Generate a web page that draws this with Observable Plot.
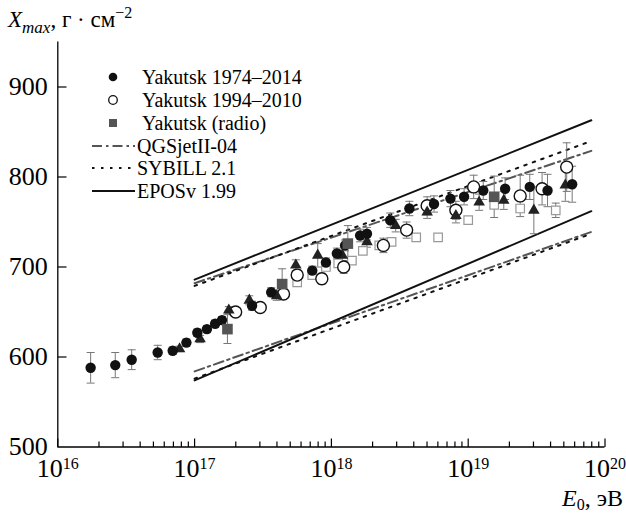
<!DOCTYPE html>
<html><head><meta charset="utf-8">
<script src="https://cdn.jsdelivr.net/npm/d3@7"></script>
<script src="https://cdn.jsdelivr.net/npm/@observablehq/plot@0.6"></script>
<style>body{margin:0;background:#fff}#chart{width:626px;height:516px}</style>
</head><body><div id="chart"></div>
<script>
// ---------- data ----------
const xMajorTicks = [1e16, 1e17, 1e18, 1e19, 1e20];
const minorMultipliers = [2, 3, 4, 5, 6, 7, 8, 9];
const yTicks = [500, 600, 700, 800, 900];

// Yakutsk 1974–2014 (filled circles)
const fcLogE = [16.24,16.42,16.54,16.73,16.84,16.94,17.02,17.09,17.15,17.20,17.42,17.56,17.86,17.96,18.04,18.10,18.21,18.26,18.43,18.57,18.75,18.87,18.97,19.11,19.27,19.45,19.58,19.76];
const fcX    = [588,591,597,605,607,616,627,631,637,641,657,672,696,705,715,724,735,737,752,765,770,776,778,785,787,789,785,792];
const fcErr  = [17,14,11,8,4,4,4,4,4,4,5,5,5,5,6,6,7,7,8,8,9,9,9,10,12,14,18,20];
// Yakutsk 1994–2010 (open circles)
const ocLogE = [17.30,17.48,17.65,17.75,17.93,18.09,18.38,18.55,18.70,18.91,19.04,19.38,19.54,19.72];
const ocX    = [650,655,670,691,687,700,724,741,768,763,789,779,787,811];
const ocErr  = [4,5,5,6,6,7,8,9,10,10,13,23,18,27];
// Yakutsk (radio) (grey squares)
const rdLogE = [17.24,17.64,18.12,19.19];
const rdX    = [631,681,726,778];
const rdErr  = [16,17,20,23];
// unlabelled: filled triangles
const trLogE = [16.89,17.04,17.25,17.40,17.60,17.74,17.90,18.08,18.26,18.47,18.70,18.91,19.08,19.26,19.48,19.71];
const trX    = [609,620,652,663,668,702,713,713,728,746,761,757,772,774,763,791];
const trErr  = [3,4,4,5,5,6,13,6,6,7,7,8,9,10,26,18];
// unlabelled: open grey squares
const osLogE = [17.75,17.86,17.96,18.05,18.15,18.23,18.35,18.44,18.62,18.78,19.00,19.19,19.38,19.64];
const osX    = [683,691,700,704,707,718,724,728,733,733,752,769,765,763];
const osErr  = [3,3,3,3,3,3,3,3,3,3,3,3,4,8];

// model predictions (proton upper, iron lower), endpoints
const modelLogE = [17, 19.9];
const qgsP = [682, 829], qgsFe = [584, 739];
const sibP = [679, 840], sibFe = [576, 737];
const eposP = [686, 863], eposFe = [574, 762];

const legendLabels = ["Yakutsk 1974\u20132014", "Yakutsk 1994\u20132010", "Yakutsk (radio)", "QGSjetII-04", "SYBILL 2.1", "EPOSv 1.99"];

// ---------- build tables ----------
const pts = (le, xs, er) => le.map((l, i) => ({E: 10 ** l, X: xs[i], err: er[i]}));
const fc = pts(fcLogE, fcX, fcErr), oc = pts(ocLogE, ocX, ocErr), rd = pts(rdLogE, rdX, rdErr),
      tr = pts(trLogE, trX, trErr), os = pts(osLogE, osX, osErr);
const model = (p, fe) => [...modelLogE.map((l, i) => ({E: 10 ** l, X: p[i], k: "p"})),
                          ...modelLogE.map((l, i) => ({E: 10 ** l, X: fe[i], k: "fe"}))];
const allErr = [...os, ...oc, ...tr, ...fc, ...rd];
const caps = allErr.flatMap(d => [{E: d.E, X: d.X - d.err}, {E: d.E, X: d.X + d.err}]);
const minorTicks = xMajorTicks.slice(0, -1).flatMap(d => minorMultipliers.map(m => d * m));

const rad = size => Math.sqrt(size / Math.PI);
const hLine = {draw(c, s) { const r = rad(s); c.moveTo(-r, 0); c.lineTo(r, 0); }};
const upLine = {draw(c, s) { const r = rad(s); c.moveTo(0, 0); c.lineTo(0, -r); }};
const rightLine = {draw(c, s) { const r = rad(s); c.moveTo(0, 0); c.lineTo(r, 0); }};

const serif = "'Liberation Serif','Times New Roman',serif";
const errColor = "#777";

const plot = Plot.plot({
  width: 626, height: 516,
  marginLeft: 57.3, marginRight: 21.5, marginTop: 41.5, marginBottom: 69.5,
  style: {fontFamily: serif, background: "#fff", color: "#000"},
  x: {type: "log", domain: [1e16, 1e20]},
  y: {domain: [500, 950]},
  marks: [
    Plot.axisX({ticks: xMajorTicks, tickSize: 0, tickPadding: 12, fontSize: 26, label: null,
      tickFormat: d => String(Math.round(Math.log10(d)))}),
    Plot.axisY({ticks: yTicks, tickSize: 0, tickPadding: 10, fontSize: 26, label: null}),
    // models
    Plot.line(model(qgsP, qgsFe), {x: "E", y: "X", z: "k", stroke: "#555", strokeWidth: 2, strokeDasharray: "10,4,2.5,4"}),
    Plot.line(model(sibP, sibFe), {x: "E", y: "X", z: "k", stroke: "#111", strokeWidth: 2, strokeDasharray: "2.5,6.5"}),
    Plot.line(model(eposP, eposFe), {x: "E", y: "X", z: "k", stroke: "#111", strokeWidth: 2}),
    // error bars
    Plot.ruleX(allErr, {x: "E", y1: d => d.X - d.err, y2: d => d.X + d.err, stroke: errColor, strokeWidth: 1}),
    Plot.dot(caps, {x: "E", y: "X", symbol: hLine, r: 4, stroke: errColor, strokeWidth: 1, fill: "none"}),
    // points
    Plot.dot(os, {x: "E", y: "X", symbol: "square", r: 4.8, fill: "#fff", stroke: "#999", strokeWidth: 1.2}),
    Plot.dot(oc, {x: "E", y: "X", r: 6, fill: "#fff", stroke: "#111", strokeWidth: 1.4}),
    Plot.dot(tr, {x: "E", y: "X", symbol: "triangle", r: 4.3, fill: "#222", stroke: "none"}),
    Plot.dot(fc, {x: "E", y: "X", r: 5.2, fill: "#111", stroke: "none"}),
    Plot.dot(rd, {x: "E", y: "X", symbol: "square", r: 6, fill: "#555", stroke: "none"}),
    // axis frame and inward ticks
    Plot.ruleX([1e16], {stroke: "#000", strokeWidth: 1.3}),
    Plot.ruleY([500], {stroke: "#000", strokeWidth: 1.3}),
    Plot.dot(xMajorTicks, {x: d => d, y: () => 500, symbol: upLine, r: 8.5, stroke: "#000", strokeWidth: 1.2}),
    Plot.dot(minorTicks, {x: d => d, y: () => 500, symbol: upLine, r: 5.5, stroke: "#000", strokeWidth: 1.2}),
    Plot.dot(yTicks.slice(1), {x: () => 1e16, y: d => d, symbol: rightLine, r: 8.7, stroke: "#000", strokeWidth: 1.2})
  ]
});
document.getElementById("chart").append(plot);

// superscripts on x tick labels
plot.querySelectorAll('[aria-label="x-axis tick label"] text').forEach(t => {
  const p = t.textContent;
  t.textContent = "10";
  const s = document.createElementNS("http://www.w3.org/2000/svg", "tspan");
  s.setAttribute("dy", "-8.5");
  s.setAttribute("font-size", "16");
  s.textContent = p;
  t.appendChild(s);
});

const svg = d3.select(plot);
// axis titles
const yt = svg.append("text").attr("x", 8).attr("y", 27).attr("text-anchor", "start").attr("font-size", 23).attr("font-family", serif).attr("fill", "#000");
yt.append("tspan").attr("font-style", "italic").text("X");
yt.append("tspan").attr("font-style", "italic").attr("font-size", 17).attr("dy", 6).text("max");
yt.append("tspan").attr("dy", -6).text(", \u0433 \u00b7 \u0441\u043c");
yt.append("tspan").attr("font-size", 16).attr("dy", -9).text("\u22122");

const xt = svg.append("text").attr("x", 623).attr("y", 506).attr("text-anchor", "end").attr("font-size", 24).attr("font-family", serif).attr("fill", "#000");
xt.append("tspan").attr("font-style", "italic").text("E");
xt.append("tspan").attr("font-size", 16).attr("dy", 4).text("0");
xt.append("tspan").attr("dy", -4).text(", \u044d\u0412");

// legend
const rows = [77, 100, 123, 146, 168, 191];
const lg = svg.append("g").attr("font-family", serif).attr("font-size", 20).attr("text-anchor", "start");
lg.append("circle").attr("cx", 113).attr("cy", rows[0]).attr("r", 4.3).attr("fill", "#111");
lg.append("circle").attr("cx", 113).attr("cy", rows[1]).attr("r", 4.3).attr("fill", "#fff").attr("stroke", "#111").attr("stroke-width", 1.3);
lg.append("rect").attr("x", 109).attr("y", rows[2] - 4).attr("width", 8).attr("height", 8).attr("fill", "#555");
lg.append("line").attr("x1", 92).attr("x2", 135).attr("y1", rows[3]).attr("y2", rows[3]).attr("stroke", "#555").attr("stroke-width", 2).attr("stroke-dasharray", "10,4,2.5,4");
lg.append("line").attr("x1", 92).attr("x2", 135).attr("y1", rows[4]).attr("y2", rows[4]).attr("stroke", "#111").attr("stroke-width", 2).attr("stroke-dasharray", "2.5,6.5");
lg.append("line").attr("x1", 92).attr("x2", 135).attr("y1", rows[5]).attr("y2", rows[5]).attr("stroke", "#111").attr("stroke-width", 2);
legendLabels.forEach((s, i) => {
  lg.append("text").attr("x", i < 3 ? 142 : 137).attr("y", rows[i] + 7).attr("text-anchor", "start").attr("fill", "#000").text(s);
});
</script>
</body></html>
